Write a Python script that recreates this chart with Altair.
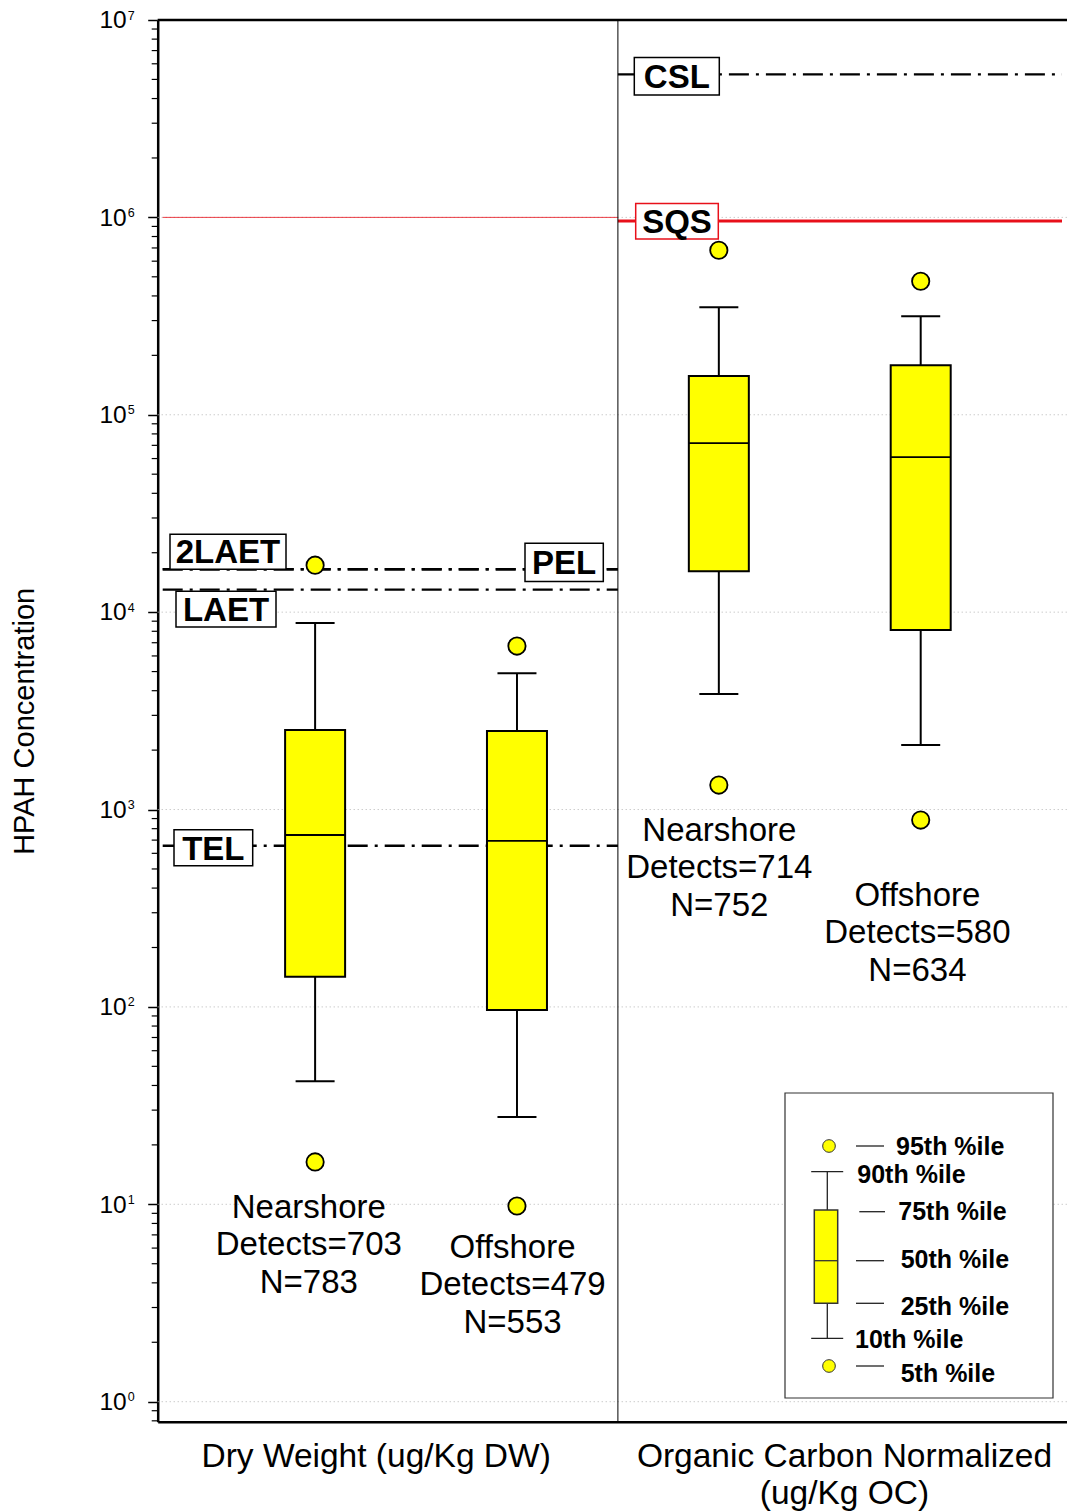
import json
import altair as alt
import pandas as pd

# ---------------- data ----------------
# percentile summaries (ug/Kg), one entry per box
site = ["Nearshore", "Offshore", "Nearshore", "Offshore"]
basis = ["DW", "DW", "OC", "OC"]
p5 = [16.4, 9.8, 1330, 884]
p10 = [42, 27.7, 3850, 2120]
p25 = [142, 96.4, 16100, 8110]
p50 = [743, 693, 71900, 61000]
p75 = [2530, 2500, 157000, 178000]
p90 = [8800, 4910, 351000, 316000]
p95 = [17300, 6730, 682000, 475000]
detects = [703, 479, 714, 580]
n_total = [783, 553, 752, 634]

# sediment quality guidelines
guide_name = ["2LAET", "PEL", "LAET", "TEL", "CSL", "SQS"]
guide_value = [16500, 16500, 13000, 655, 5300000, 960000]
guide_basis = ["DW", "DW", "DW", "DW", "OC", "OC"]

# thin red reference across the dry-weight panel
dw_reference = [1000000]

panel_name = ["Dry Weight (ug/Kg DW)", ["Organic Carbon Normalized", "(ug/Kg OC)"]]
legend_items = ["95th %ile", "90th %ile", "75th %ile", "50th %ile",
                "25th %ile", "10th %ile", "5th %ile"]

# ---------------- layout ----------------
W, H = 909.3, 1401.7
PAD = {"left": 157.7, "top": 20, "right": 0, "bottom": 89.3}
X_MIN, X_SPLIT, X_MAX = -0.755, 1.5, 3.70
Y_MIN, Y_MAX = 0.7918, 1e7
FONT = "Liberation Sans"
YELLOW = "#FFFF00"
RED = "#E8101A"
DASHDOT = [20, 7, 3, 7]

xs = alt.Scale(domain=[X_MIN, X_MAX], nice=False, zero=False)
ys = alt.Scale(type="log", domain=[Y_MIN, Y_MAX], nice=False)

y_axis = alt.Axis(
    values=[10 ** k for k in range(8)], labels=False, ticks=True, tickSize=10,
    tickWidth=1.5, tickColor="black", domain=True, domainColor="black",
    domainWidth=2.5, grid=False, title="HPAH Concentration", titleFont=FONT,
    titleFontSize=29, titleFontWeight="normal", titleColor="black",
    titleAngle=270, titleX=-133, titleY=H / 2, titleAlign="center",
    titleBaseline="middle", titleLimit=0,
)
label_expr = "datum.value > %s ? %s : %s" % (
    X_SPLIT, json.dumps(panel_name[1]), json.dumps(panel_name[0]))
x_axis = alt.Axis(
    values=[0.30, 2.62], labelExpr=label_expr, ticks=False, tickSize=0,
    grid=False, domain=True, domainColor="black", domainWidth=2.5, title=None,
    labelFont=FONT, labelFontSize=33.5, labelColor="black", labelPadding=19,
    labelBaseline="top", labelLineHeight=37, labelOverlap=False, labelLimit=0,
    labelBound=False, labelFlush=False, labelAlign="center",
)


# every layer shares the same scale and axis definition so they merge cleanly
def X(field):
    return alt.X(field, type="quantitative", scale=xs, axis=x_axis)


def Y(field):
    return alt.Y(field, type="quantitative", scale=ys, axis=y_axis)


def PXX(field):
    return alt.X(field, type="quantitative", scale=None)


def PXY(field):
    return alt.Y(field, type="quantitative", scale=None)


boxes = pd.DataFrame({
    "slot": list(range(len(site))), "site": site, "basis": basis,
    "p5": p5, "p10": p10, "p25": p25, "p50": p50,
    "p75": p75, "p90": p90, "p95": p95,
})
boxes["label"] = [f"{s}\nDetects={d}\nN={n}" for s, d, n in zip(site, detects, n_total)]

guides = pd.DataFrame({"name": guide_name, "value": guide_value, "basis": guide_basis})
guides["start"] = [X_MIN if b == "DW" else X_SPLIT for b in guide_basis]
guides["end"] = [X_SPLIT if b == "DW" else X_MAX for b in guide_basis]

decades = pd.DataFrame({"val": [10 ** k for k in range(8)], "exp": [str(k) for k in range(8)]})
minor_vals = [round(d * 10 ** k, 6) for k in range(-1, 7) for d in range(2, 10)
              if Y_MIN <= d * 10 ** k <= Y_MAX]
minor = pd.DataFrame({"val": minor_vals})

layers = []

# decade gridlines
layers.append(alt.Chart(decades).mark_rule(color="#b4b4b4", strokeDash=[1, 3], strokeWidth=1)
              .encode(x=alt.value(0), x2=alt.value(W), y=Y("val")))
# minor ticks
layers.append(alt.Chart(minor).mark_rule(color="black", strokeWidth=1.2)
              .encode(x=alt.value(-6), x2=alt.value(0), y=Y("val")))
# decade labels 10^k
layers.append(alt.Chart(decades).mark_text(align="right", baseline="alphabetic", dy=8.2,
                                           fontSize=24.5, font=FONT, color="black")
              .encode(x=alt.value(-31), y=Y("val"), text=alt.value("10")))
layers.append(alt.Chart(decades).mark_text(align="left", baseline="alphabetic", dy=-0.5,
                                           fontSize=12.5, font=FONT, color="black")
              .encode(x=alt.value(-30), y=Y("val"), text="exp:N"))

# thin red line in the dry-weight panel
ref = pd.DataFrame({"value": dw_reference, "start": [X_MIN], "end": [X_SPLIT]})
layers.append(alt.Chart(ref).mark_rule(color=RED, strokeWidth=1, opacity=0.8)
              .encode(x=X("start"), x2=alt.X2("end"), y=Y("value")))

# guideline lines
layers.append(alt.Chart(guides).transform_filter(alt.datum.name != "SQS")
              .mark_rule(color="black", strokeWidth=2.4, strokeDash=DASHDOT)
              .encode(x=X("start"), x2=alt.X2("end"), y=Y("value")))
layers.append(alt.Chart(guides).transform_filter(alt.datum.name == "SQS")
              .mark_rule(color=RED, strokeWidth=3)
              .encode(x=X("start"), x2=alt.X2("end"), y=Y("value")))

# panel divider
split = pd.DataFrame({"split": [X_SPLIT]})
layers.append(alt.Chart(split).mark_rule(color="black", strokeWidth=1)
              .encode(x=X("split"), y=alt.value(0), y2=alt.value(H)))

# whiskers
base = alt.Chart(boxes)
layers.append(base.mark_rule(color="black", strokeWidth=2)
              .encode(x=X("slot"), y=Y("p10"), y2=alt.Y2("p25")))
layers.append(base.mark_rule(color="black", strokeWidth=2)
              .encode(x=X("slot"), y=Y("p75"), y2=alt.Y2("p90")))
# boxes
layers.append(base.mark_bar(width=60, fill=YELLOW, stroke="black", strokeWidth=2)
              .encode(x=X("slot"), y=Y("p25"), y2=alt.Y2("p75")))
# medians and caps
layers.append(base.mark_rule(color="black", strokeWidth=1.8, xOffset=-30, x2Offset=30)
              .encode(x=X("slot"), x2=alt.X2("slot"), y=Y("p50")))
for col in ["p10", "p90"]:
    layers.append(base.mark_rule(color="black", strokeWidth=2, xOffset=-19.5, x2Offset=19.5)
                  .encode(x=X("slot"), x2=alt.X2("slot"), y=Y(col)))
# 5th / 95th dots
for col in ["p5", "p95"]:
    layers.append(base.mark_point(shape="circle", size=300, fill=YELLOW, fillOpacity=1,
                                  stroke="black", strokeWidth=1.8, opacity=1)
                  .encode(x=X("slot"), y=Y(col)))

# guideline label boxes: name, x0, x1, top/bottom offsets from the line, text dy
label_boxes = [
    ("2LAET", 12.3, 128.3, -35, 0, -16),
    ("PEL", 367.3, 445.6, -26, 12.4, -5),
    ("LAET", 18.3, 118.3, 1.7, 37.3, 21.5),
    ("TEL", 16.3, 95.0, -16, 20, 4),
    ("CSL", 476.6, 561.6, -17, 20.7, 4),
    ("SQS", 478.0, 560.6, -17.5, 18.2, 2),
]
for nm, x0, x1, top, bot, tdy in label_boxes:
    g = alt.Chart(guides).transform_filter(alt.datum.name == nm)
    layers.append(g.mark_rect(fill="white", stroke=RED if nm == "SQS" else "black",
                              strokeWidth=1.5, yOffset=top, y2Offset=bot)
                  .encode(x=alt.value(x0), x2=alt.value(x1), y=Y("value"), y2=alt.Y2("value")))
    layers.append(g.mark_text(font=FONT, fontWeight="bold", fontSize=33, color="black",
                              align="center", baseline="middle", dy=tdy)
                  .encode(x=alt.value((x0 + x1) / 2), y=Y("value"), text="name:N"))

# sample-count labels beneath each box
label_dx = [-6.3, -4.4, 0.5, -3.3]
label_dy = [29.7, 25.7, 29.7, 59.7]
for i in range(len(site)):
    layers.append(base.transform_filter(alt.datum.slot == i)
                  .mark_text(font=FONT, fontSize=33, color="black", align="center",
                             baseline="top", lineBreak="\n", lineHeight=37.5,
                             dx=label_dx[i], dy=label_dy[i])
                  .encode(x=X("slot"), y=Y("p5"), text="label:N"))

# ---------------- legend (pixel positions inside the plot) ----------------
leg_frame = pd.DataFrame({"x0": [627.3], "x1": [895.3], "y0": [1073], "y1": [1378]})
layers.append(alt.Chart(leg_frame).mark_rect(fill="white", stroke="#333333", strokeWidth=1.2)
              .encode(x=PXX("x0"), x2="x1:Q", y=PXY("y0"), y2="y1:Q"))

leg_x = 669.6
leg_y = {"95th %ile": 1126, "90th %ile": 1151.7, "75th %ile": 1190, "50th %ile": 1240.7,
         "25th %ile": 1283.3, "10th %ile": 1318.3, "5th %ile": 1346}
leg_lines = pd.DataFrame({
    "x0": [leg_x, leg_x, 653.5, 653.5, 698.3, 701.6, 698.3, 698.3, 698.3],
    "x1": [leg_x, leg_x, 685.5, 685.5, 726.3, 727.3, 726.3, 726.3, 726.3],
    "y0": [leg_y["90th %ile"], leg_y["25th %ile"], leg_y["90th %ile"], leg_y["10th %ile"],
           leg_y["95th %ile"], leg_y["75th %ile"] + 1.7, leg_y["50th %ile"],
           leg_y["25th %ile"], leg_y["5th %ile"]],
    "y1": [leg_y["75th %ile"], leg_y["10th %ile"], leg_y["90th %ile"], leg_y["10th %ile"],
           leg_y["95th %ile"], leg_y["75th %ile"] + 1.7, leg_y["50th %ile"],
           leg_y["25th %ile"], leg_y["5th %ile"]],
})
layers.append(alt.Chart(leg_lines).mark_rule(color="#222222", strokeWidth=1.3)
              .encode(x=PXX("x0"), x2="x1:Q", y=PXY("y0"), y2="y1:Q"))
leg_box = pd.DataFrame({"x0": [656.6], "x1": [680.0],
                        "y0": [leg_y["75th %ile"]], "y1": [leg_y["25th %ile"]],
                        "ym": [leg_y["50th %ile"]]})
layers.append(alt.Chart(leg_box).mark_rect(fill=YELLOW, stroke="#333333", strokeWidth=1.5)
              .encode(x=PXX("x0"), x2="x1:Q", y=PXY("y0"), y2="y1:Q"))
layers.append(alt.Chart(leg_box).mark_rule(color="#333333", strokeWidth=1.3)
              .encode(x=PXX("x0"), x2="x1:Q", y=PXY("ym")))
leg_dots = pd.DataFrame({"x": [671.3, 671.3], "y": [leg_y["95th %ile"], leg_y["5th %ile"]]})
layers.append(alt.Chart(leg_dots).mark_point(shape="circle", size=160, fill=YELLOW,
                                             fillOpacity=1, stroke="#333333", strokeWidth=1,
                                             opacity=1)
              .encode(x=PXX("x"), y=PXY("y")))
leg_text = pd.DataFrame({
    "item": legend_items,
    "x": [738.3, 699.6, 740.6, 743.0, 743.0, 697.3, 743.0],
    "y": [1125, 1153.3, 1190.7, 1238.3, 1285, 1318.3, 1352.7],
})
layers.append(alt.Chart(leg_text).mark_text(font=FONT, fontWeight="bold", fontSize=25,
                                            color="black", align="left", baseline="middle",
                                            dy=1.5)
              .encode(x=PXX("x"), y=PXY("y"), text="item:N"))

# top frame line
layers.append(alt.Chart(split).mark_rule(color="black", strokeWidth=2.5)
              .encode(x=alt.value(0), x2=alt.value(W), y=alt.value(0)))

chart = (
    alt.layer(*layers)
    .properties(width=W, height=H, padding=PAD,
                autosize=alt.AutoSizeParams(type="none"), background="white")
    .configure_view(stroke=None)
)

chart.save("out.html", embed_options={"renderer": "svg", "actions": False})
